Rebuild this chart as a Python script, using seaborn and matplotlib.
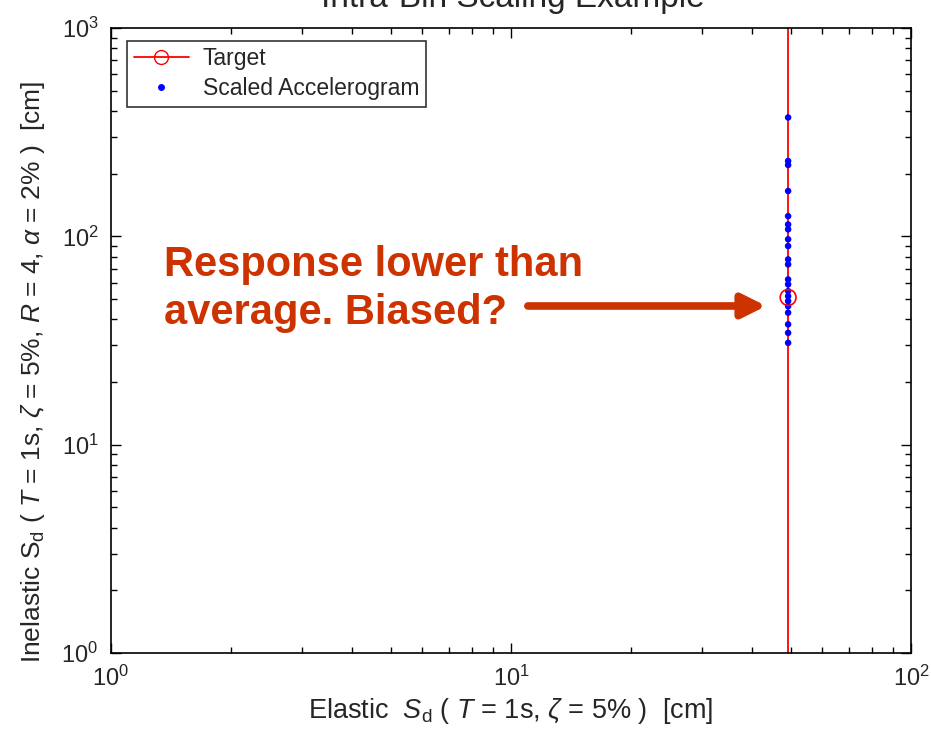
import numpy as np
import pandas as pd
import matplotlib
matplotlib.use("Agg")
import matplotlib.pyplot as plt
import seaborn as sns
from matplotlib.lines import Line2D
from matplotlib.ticker import LogLocator, NullFormatter

# ---- data ----
target_x = [49.3]
target_y = [50.9]
scaled_x = [49.3] * 21
scaled_y = [372, 230, 220, 165, 125, 114, 108, 96.8, 89.8, 77.5, 73.3,
            62.1, 58.8, 54.6, 51.6, 48.9, 46.2, 43.0, 37.8, 34.4, 30.8]
xlim = [1, 100]
ylim = [1, 1000]
legend_labels = ["Target", "Scaled Accelerogram"]
title = "Intra-Bin Scaling Example"
annotation = "Response lower than\naverage. Biased?"

sns.set_style("ticks")
plt.rcParams["font.family"] = ["Liberation Sans", "DejaVu Sans"]
plt.rcParams["mathtext.fontset"] = "custom"
plt.rcParams["mathtext.rm"] = "Liberation Sans"
plt.rcParams["mathtext.it"] = "Liberation Sans:italic"
plt.rcParams["mathtext.bf"] = "Liberation Sans:bold"

fig = plt.figure(figsize=(9.31, 7.35), dpi=100)
ax = fig.add_axes([0.1192, 0.1116, 0.8593, 0.8503])

df_s = pd.DataFrame({"x": scaled_x, "y": scaled_y})
df_t = pd.DataFrame({"x": target_x, "y": target_y})

# vertical target line
ax.axvline(target_x[0], color="red", lw=1.3, zorder=2)
sns.scatterplot(data=df_s, x="x", y="y", ax=ax, color="blue", s=22,
                edgecolor="none", zorder=3, legend=False)
sns.scatterplot(data=df_t, x="x", y="y", ax=ax, facecolor="none",
                edgecolor="red", marker="o", s=130, linewidth=1.2,
                zorder=4, legend=False)

ax.set_xscale("log")
ax.set_yscale("log")
ax.set_xlim(xlim)
ax.set_ylim(ylim)

for axis in (ax.xaxis, ax.yaxis):
    axis.set_major_locator(LogLocator(base=10, numticks=10))
    axis.set_minor_locator(LogLocator(base=10, subs=np.arange(2, 10), numticks=10))
    axis.set_minor_formatter(NullFormatter())

ax.tick_params(which="both", direction="in", top=True, right=True,
               color="black")
ax.tick_params(which="major", length=7, width=1, labelsize=17, pad=9)
ax.tick_params(which="minor", length=4, width=1)
for sp in ax.spines.values():
    sp.set_linewidth(1.2)
    sp.set_color("black")

ax.set_xlabel(r"Elastic  $S_{\rm d}$ ( $T$ = 1s, $\zeta$ = 5% )  [cm]",
              fontsize=19.5, labelpad=4)
ax.set_ylabel(r"Inelastic S$_{\rm d}$ ( $T$ = 1s, $\zeta$ = 5%, $R$ = 4, $\alpha$ = 2% )  [cm]",
              fontsize=19)
ax.yaxis.set_label_coords(-0.08, 0.45)

handles = [
    Line2D([0], [0], color="red", lw=1.3, marker="o", markerfacecolor="none",
           markeredgecolor="red", markersize=10),
    Line2D([0], [0], color="none", marker="o", markerfacecolor="blue",
           markeredgecolor="none", markersize=5),
]
leg = ax.legend(handles, legend_labels, loc="upper left", fontsize=16.5,
                frameon=True, fancybox=False, edgecolor="black",
                bbox_to_anchor=(0.02, 0.98), borderaxespad=0,
                handlelength=2.4, labelspacing=0.3, borderpad=0.3,
                handletextpad=0.6)
leg.get_frame().set_linewidth(1.2)

fig.text(0.551, 0.99, title, ha="center", va="baseline", fontsize=24)

ax.annotate("", xy=(0.823, 0.5837), xycoords="figure fraction",
            xytext=(0.567, 0.5837), textcoords="figure fraction",
            arrowprops=dict(arrowstyle="-|>,head_length=1.4,head_width=0.7",
                            color="#CC3300", lw=5.5, shrinkA=0, shrinkB=0))
fig.text(0.176, 0.607, annotation, ha="left", va="center", fontsize=30,
         fontweight="bold", color="#CC3300", linespacing=1.25)

fig.savefig("out.png", dpi=100)
